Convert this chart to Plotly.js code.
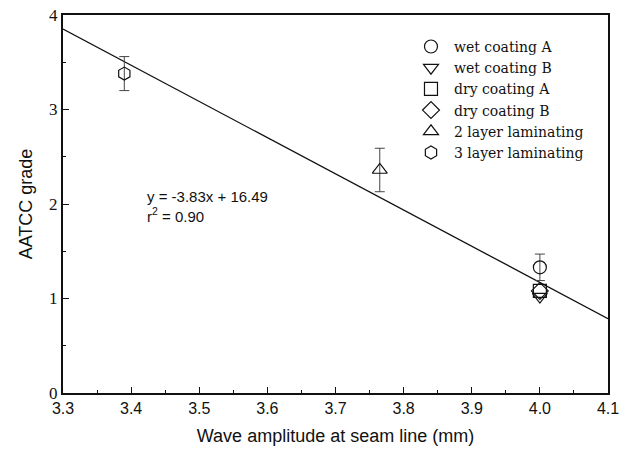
<!DOCTYPE html>
<html>
<head>
<meta charset="utf-8">
<script src="https://cdn.plot.ly/plotly-3.0.1.min.js"></script>
<style>html,body{margin:0;padding:0;background:#fff;}#chart{width:627px;height:452px;}</style>
</head>
<body>
<div id="chart"></div>
<script>
const seriesNames = ["wet coating A", "wet coating B", "dry coating A", "dry coating B", "2 layer laminating", "3 layer laminating"];
const symbols = ["circle-open", "triangle-down-open", "square-open", "diamond-open", "triangle-up-open", "hexagon-open"];
const amplitude = [4.0, 4.0, 4.0, 4.0, 3.765, 3.39];
const grade = [1.33, 1.02, 1.08, 1.08, 2.36, 3.38];
const gradeErr = [0.14, 0, 0, 0, 0.23, 0.18];
const fitSlope = -3.83, fitIntercept = 16.49;
const fitX = [3.3, 4.1];
const xTicks = [3.3, 3.4, 3.5, 3.6, 3.7, 3.8, 3.9, 4.0, 4.1];
const xTickText = ["3.3", "3.4", "3.5", "3.6", "3.7", "3.8", "3.9", "4.0", "4.1"];
const yTicks = [0, 1, 2, 3, 4];

const traces = [{
  x: fitX, y: fitX.map(v => fitSlope * v + fitIntercept),
  mode: 'lines', line: {color: '#111', width: 1.3}, showlegend: false, hoverinfo: 'skip'
}];
seriesNames.forEach((n, i) => {
  traces.push({
    x: [amplitude[i]], y: [grade[i]], name: n, mode: 'markers', type: 'scatter',
    marker: {symbol: symbols[i], size: 13, color: '#111', line: {width: 1.2, color: '#111'}},
    error_y: {type: 'data', array: [gradeErr[i]], visible: gradeErr[i] > 0, color: '#444', thickness: 1, width: 5}
  });
});

const layout = {
  width: 627, height: 452,
  margin: {l: 63, r: 19, t: 15, b: 59},
  paper_bgcolor: '#fff', plot_bgcolor: '#fff',
  showlegend: true,
  legend: {x: 0.633, y: 0.958, xanchor: 'left', yanchor: 'top', bgcolor: 'rgba(0,0,0,0)',
    font: {family: 'DejaVu Serif', size: 14, color: '#111'}, tracegroupgap: 0, itemwidth: 36},
  xaxis: {range: [3.3, 4.1], tickvals: xTicks, ticktext: xTickText, ticks: 'inside', ticklen: 6,
    tickcolor: '#111', showline: true, linecolor: '#111', linewidth: 2, mirror: true, showgrid: false, zeroline: false,
    tickfont: {family: 'Liberation Sans', size: 16, color: '#111'},
    minor: {dtick: 0.05, ticks: 'inside', ticklen: 3, tickcolor: '#111'},
    title: {text: 'Wave amplitude at seam line (mm)', font: {family: 'Liberation Sans', size: 18, color: '#111'}, standoff: 13}},
  yaxis: {range: [0, 4], tickvals: yTicks, ticks: 'inside', ticklen: 6,
    tickcolor: '#111', showline: true, linecolor: '#111', linewidth: 2, mirror: true, showgrid: false, zeroline: false,
    tickfont: {family: 'Liberation Serif', size: 17, color: '#111'},
    minor: {dtick: 0.5, ticks: 'inside', ticklen: 3, tickcolor: '#111'},
    title: {text: 'AATCC grade', font: {family: 'Liberation Sans', size: 18, color: '#111'}, standoff: 12}},
  annotations: [{
    x: 3.42, y: 1.97, xref: 'x', yref: 'y', xanchor: 'left', yanchor: 'middle', align: 'left', showarrow: false,
    text: 'y = -3.83x + 16.49<br>r<sup>2</sup> = 0.90',
    font: {family: 'Liberation Sans', size: 15, color: '#111'}
  }]
};
Plotly.newPlot('chart', traces, layout, {displayModeBar: false, staticPlot: true});
</script>
</body>
</html>
